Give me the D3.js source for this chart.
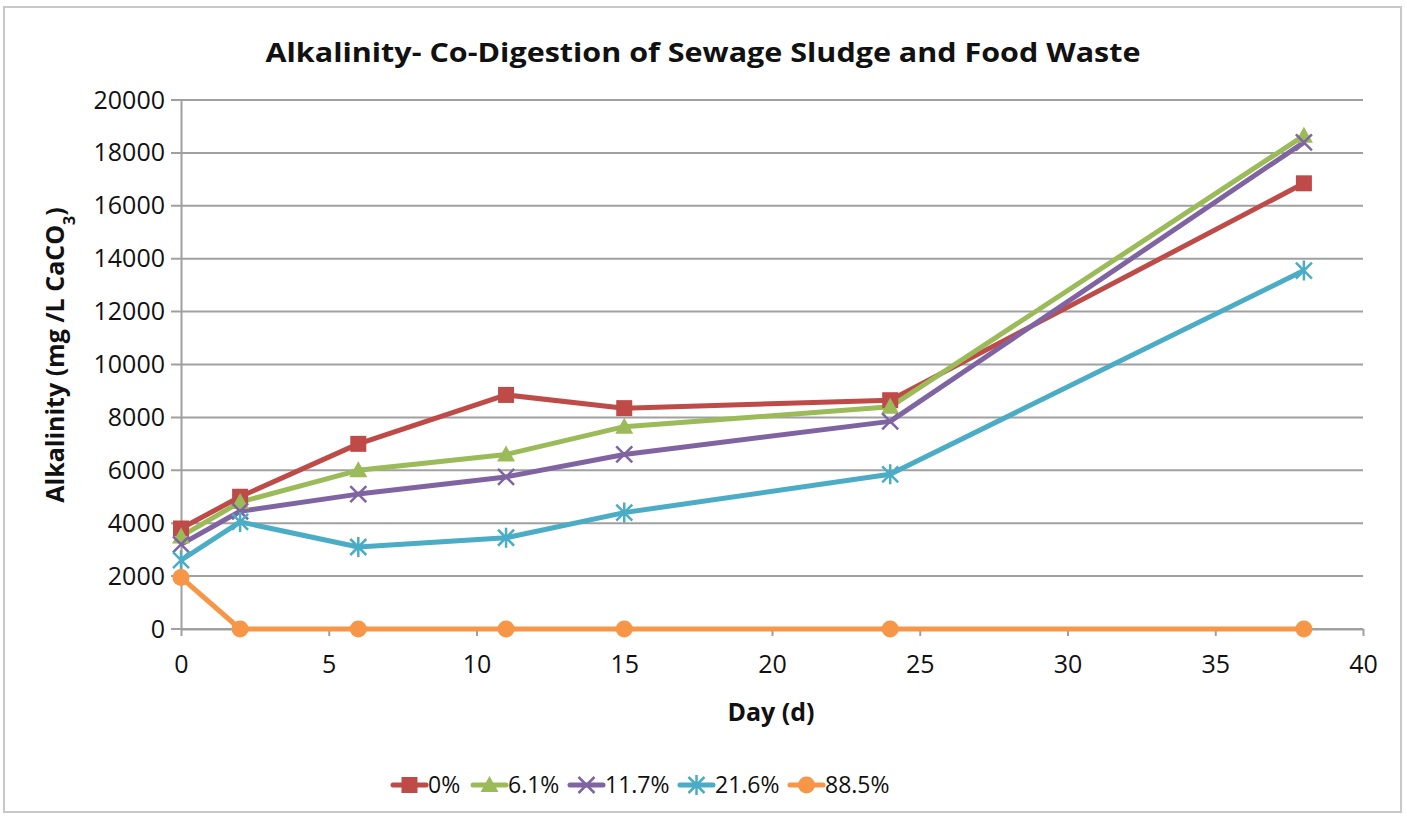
<!DOCTYPE html>
<html>
<head>
<meta charset="utf-8">
<script src="https://cdn.jsdelivr.net/npm/d3@7"></script>
<style>
  body { margin: 0; background: #fff; }
  text { font-family: "Open Sans", "DejaVu Sans", sans-serif; fill: #111; }
</style>
</head>
<body>
<div id="viz"></div>
<script>
const days = [0, 2, 6, 11, 15, 24, 38];
const seriesNames = ["0%", "6.1%", "11.7%", "21.6%", "88.5%"];
const s0 = [3800, 5000, 7000, 8850, 8350, 8650, 16850];
const s61 = [3500, 4800, 6000, 6600, 7650, 8400, 18650];
const s117 = [3200, 4450, 5100, 5750, 6600, 7850, 18400];
const s216 = [2600, 4050, 3100, 3450, 4400, 5850, 13550];
const s885 = [1950, 0, 0, 0, 0, 0, 0];
const yTicks = [0, 2000, 4000, 6000, 8000, 10000, 12000, 14000, 16000, 18000, 20000];
const xTicks = [0, 5, 10, 15, 20, 25, 30, 35, 40];
const colors = ["#be4b48", "#9bbb59", "#8064a2", "#4bacc6", "#f79646"];
const markers = ["square", "triangle", "x", "star", "circle"];

document.addEventListener("DOMContentLoaded", () => {
    const width = 1407;
    const height = 817;

    const svg = d3.select('#viz').append('svg')
        .attr('width', width)
        .attr('height', height);

    svg.append('rect')
        .attr('x', 4).attr('y', 7)
        .attr('width', 1397).attr('height', 805)
        .attr('fill', 'white')
        .attr('stroke', '#c8c8c8')
        .attr('stroke-width', 2);

    const x = d3.scaleLinear().domain([0, 40]).range([181, 1363]);
    const y = d3.scaleLinear().domain([0, 20000]).range([629, 100]);

    // gridlines
    svg.append('g')
        .selectAll('line')
        .data(yTicks)
        .enter()
        .append('line')
        .attr('x1', 171).attr('x2', 1363)
        .attr('y1', d => y(d)).attr('y2', d => y(d))
        .attr('stroke', '#a0a0a0')
        .attr('stroke-width', 2);

    // y axis
    const yAxis = svg.append('g')
        .attr('transform', 'translate(181,0)')
        .call(d3.axisLeft(y).tickValues(yTicks).tickSize(0).tickPadding(16).tickFormat(d3.format('d')));
    yAxis.select('.domain').attr('stroke', '#a0a0a0').attr('stroke-width', 2);
    yAxis.selectAll('text').style('font-size', '25px').attr('fill', '#111');

    // x axis
    const xAxis = svg.append('g')
        .attr('transform', 'translate(0,629)')
        .call(d3.axisBottom(x).tickValues(xTicks).tickSize(7).tickPadding(19).tickSizeOuter(0));
    xAxis.select('.domain').attr('stroke', '#a0a0a0').attr('stroke-width', 2);
    xAxis.selectAll('line').attr('stroke', '#a0a0a0').attr('stroke-width', 2);
    xAxis.selectAll('text').style('font-size', '25px').attr('fill', '#111');

    // titles
    svg.append('text')
        .attr('x', 703).attr('y', 62)
        .attr('text-anchor', 'middle')
        .style('font-size', '27px')
        .style('font-weight', 'bold')
        .attr('textLength', 875)
        .attr('lengthAdjust', 'spacingAndGlyphs')
        .text('Alkalinity- Co-Digestion of Sewage Sludge and Food Waste');

    svg.append('text')
        .attr('x', 771).attr('y', 721)
        .attr('text-anchor', 'middle')
        .style('font-size', '25px')
        .style('font-weight', 'bold')
        .text('Day (d)');

    const yLabel = svg.append('text')
        .attr('transform', 'translate(64,355) rotate(-90)')
        .attr('text-anchor', 'middle')
        .style('font-size', '25px')
        .style('font-weight', 'bold');
    yLabel.append('tspan').text('Alkalinity (mg /L CaCO');
    yLabel.append('tspan').attr('baseline-shift', 'sub').style('font-size', '16px').text('3');
    yLabel.append('tspan').text(')');

    const allSeries = [s0, s61, s117, s216, s885];

    const line = d3.line()
        .x((d, i) => x(days[i]))
        .y(d => y(d));

    function drawMarker(g, type, color) {
        if (type === 'square') {
            g.append('rect').attr('x', -8).attr('y', -8).attr('width', 16).attr('height', 16).attr('fill', color);
        } else if (type === 'triangle') {
            g.append('path').attr('d', 'M0,-9L9,7L-9,7Z').attr('fill', color);
        } else if (type === 'x') {
            g.append('path').attr('d', 'M-8,-8L8,8M-8,8L8,-8').attr('stroke', color).attr('stroke-width', 2.5).attr('fill', 'none');
        } else if (type === 'star') {
            g.append('path').attr('d', 'M-8,-8L8,8M-8,8L8,-8M0,-10L0,10').attr('stroke', color).attr('stroke-width', 2.5).attr('fill', 'none');
        } else {
            g.append('circle').attr('r', 8.5).attr('fill', color);
        }
    }

    allSeries.forEach((vals, si) => {
        svg.append('path')
            .datum(vals)
            .attr('d', line)
            .attr('fill', 'none')
            .attr('stroke', colors[si])
            .attr('stroke-width', 5)
            .attr('stroke-linejoin', 'round');
    });

    allSeries.forEach((vals, si) => {
        svg.append('g')
            .selectAll('g')
            .data(vals)
            .enter()
            .append('g')
            .attr('transform', (d, i) => `translate(${x(days[i])},${y(d)})`)
            .each(function () { drawMarker(d3.select(this), markers[si], colors[si]); });
    });

    // legend
    const legendX = [393, 473, 570, 680, 790];
    const legend = svg.append('g');
    seriesNames.forEach((name, i) => {
        const lg = legend.append('g').attr('transform', `translate(${legendX[i]},785)`);
        lg.append('line')
            .attr('x1', 0).attr('x2', 33)
            .attr('stroke', colors[i]).attr('stroke-width', 5)
            .attr('stroke-linecap', 'round');
        const m = lg.append('g').attr('transform', 'translate(16.5,0)');
        drawMarker(m, markers[i], colors[i]);
        lg.append('text')
            .attr('x', 35).attr('y', 8)
            .style('font-size', '23px')
            .text(name);
    });
});
</script>
</body>
</html>
